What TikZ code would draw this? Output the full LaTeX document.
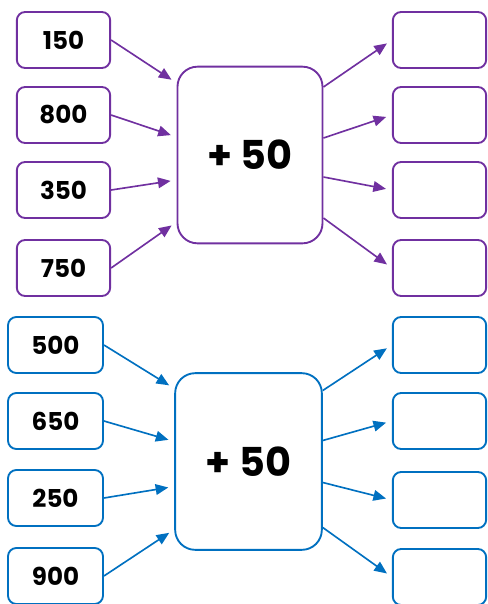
\documentclass[tikz,border=0pt]{standalone}
\usepackage{fontspec}
\setmainfont{Poppins}
\usetikzlibrary{calc,arrows.meta}

\definecolor{grape}{RGB}{112,48,160}
\definecolor{ocean}{RGB}{0,112,192}

\tikzset{
    numbox/.style={draw, rounded corners=0.25cm, line width=1.6pt,
        minimum width=2.8cm, minimum height=1.68cm, inner sep=0pt,
        font=\bfseries\fontsize{21}{25}\selectfont},
    opbox/.style={draw, rounded corners=0.6cm, line width=1.6pt,
        minimum width=4.35cm, minimum height=5.3cm, inner sep=0pt,
        font=\bfseries\fontsize{34}{40}\selectfont},
    feed/.style={line width=1.4pt, shorten >=0.18cm,
        -{Triangle[length=0.38cm,width=0.32cm]}},
}

\begin{document}
\begin{tikzpicture}[x=0.03cm, y=-0.03cm]
\useasboundingbox (0,0) rectangle (488,604);

%% Purple group
\begin{scope}[every node/.append style={draw=grape}, feed/.append style={grape}]
    \node[opbox] (opA) at (250,155) {+ 50};

    \node[numbox] (inA1) at (63.5,40)  {150};
    \node[numbox] (inA2) at (63.5,115) {800};
    \node[numbox] (inA3) at (63.5,190) {350};
    \node[numbox] (inA4) at (63.5,268) {750};

    \node[numbox] (outA1) at (439.5,40)  {};
    \node[numbox] (outA2) at (439.5,115) {};
    \node[numbox] (outA3) at (439.5,190) {};
    \node[numbox] (outA4) at (439.5,268) {};

    \draw[feed] (inA1.east) -- ($(opA.west)+(0,-72)$);
    \draw[feed] (inA2.east) -- ($(opA.west)+(0,-18)$);
    \draw[feed] (inA3.east) -- ($(opA.west)+(0,25)$);
    \draw[feed] (inA4.east) -- ($(opA.west)+(0,67)$);

    \draw[feed] ($(opA.east)+(0,-68)$) -- (outA1.west);
    \draw[feed] ($(opA.east)+(0,-17)$) -- (outA2.west);
    \draw[feed] ($(opA.east)+(0,22)$)  -- (outA3.west);
    \draw[feed] ($(opA.east)+(0,63)$)  -- (outA4.west);
\end{scope}

%% Blue group
\begin{scope}[every node/.append style={draw=ocean}, feed/.append style={ocean}]
    \node[opbox, minimum width=4.4cm] (opB) at (248.5,461.5) {+ 50};

    \node[numbox, minimum width=2.85cm] (inB1) at (55.5,345) {500};
    \node[numbox, minimum width=2.85cm] (inB2) at (55.5,421) {650};
    \node[numbox, minimum width=2.85cm] (inB3) at (55.5,498) {250};
    \node[numbox, minimum width=2.85cm] (inB4) at (55.5,576) {900};

    \node[numbox] (outB1) at (439.5,345) {};
    \node[numbox] (outB2) at (439.5,421) {};
    \node[numbox] (outB3) at (439.5,500) {};
    \node[numbox] (outB4) at (439.5,577) {};

    \draw[feed] (inB1.east) -- ($(opB.west)+(0,-73)$);
    \draw[feed] (inB2.east) -- ($(opB.west)+(0,-20)$);
    \draw[feed] (inB3.east) -- ($(opB.west)+(0,25)$);
    \draw[feed] (inB4.east) -- ($(opB.west)+(0,68)$);

    \draw[feed] ($(opB.east)+(0,-71)$) -- (outB1.west);
    \draw[feed] ($(opB.east)+(0,-21)$) -- (outB2.west);
    \draw[feed] ($(opB.east)+(0,21)$)  -- (outB3.west);
    \draw[feed] ($(opB.east)+(0,66)$)  -- (outB4.west);
\end{scope}
\end{tikzpicture}
\end{document}
